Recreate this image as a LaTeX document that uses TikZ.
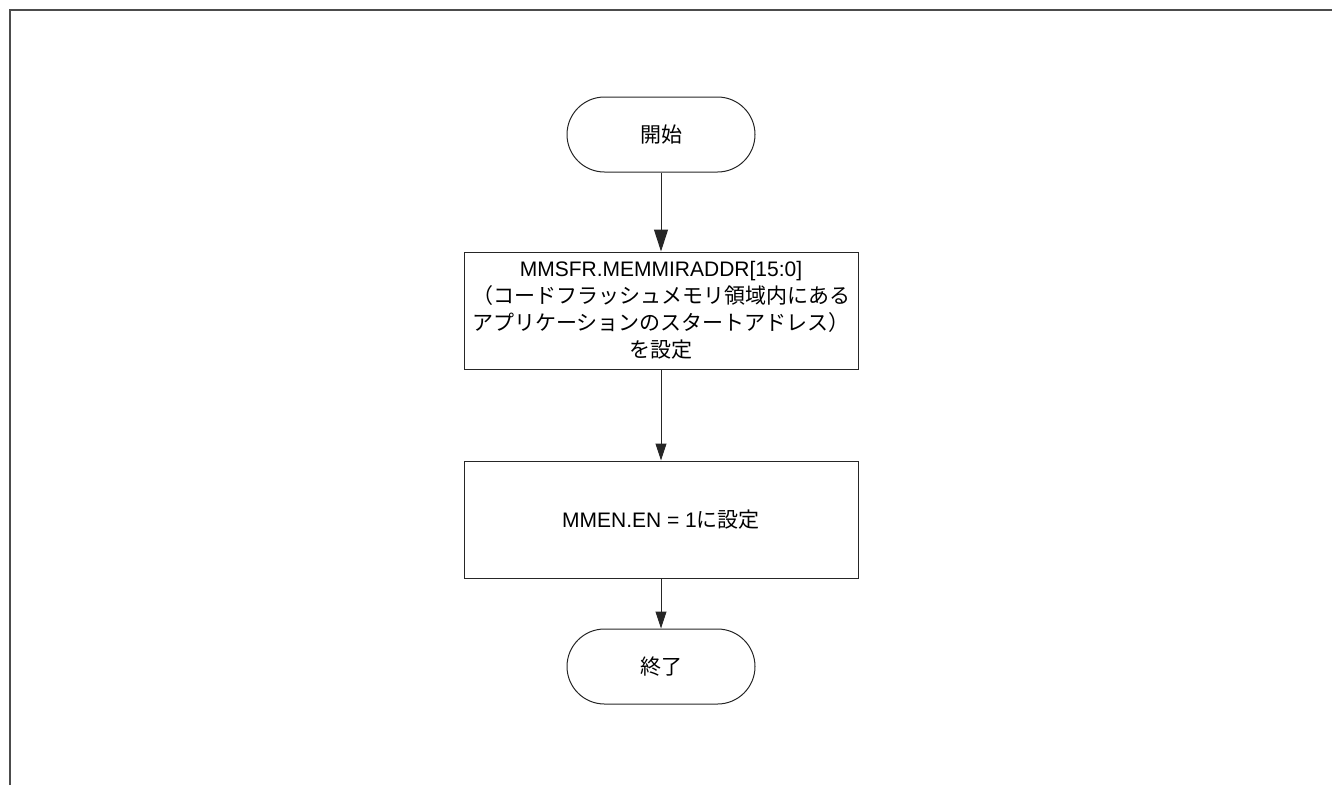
\documentclass[tikz,border=0pt]{standalone}
\usepackage{fontspec}
\setmainfont{Liberation Sans}
\newfontfamily\jpfont{Noto Sans CJK JP}
\usetikzlibrary{shapes.misc}
\usetikzlibrary{arrows.meta}

\begin{document}
\begin{tikzpicture}
[x=1pt,y=-1pt,%
  lineDecorate/.style={line width=1pt,draw=black!85},%
  termDecorate/.style={shape=rounded rectangle,draw=black!85,line width=1pt,
    minimum width=188pt,minimum height=75pt,inner sep=0pt},%
  procDecorate/.style={shape=rectangle,draw=black!85,line width=1pt,
    minimum width=394pt,minimum height=117pt,inner sep=0pt,align=center},%
  frameDecorate/.style={line width=2pt,draw=black!70},%
  font=\fontsize{21}{27}\selectfont]
\useasboundingbox (0,0) rectangle (1332,785);
%% frame
\draw[frameDecorate] (10,785) |- (1332,10);
%% nodes or vertices
\node (start) at (661,134.5) [termDecorate] {\jpfont 開始};
\node (setaddr) at (661,310.5) [procDecorate]
  {MMSFR.MEMMIRADDR[15:0]\\
   {\jpfont （コードフラッシュメモリ領域内にある}\\
   {\jpfont アプリケーションのスタートアドレス）}\\
   {\jpfont を設定}};
\node (setenable) at (661,519.5) [procDecorate] {MMEN.EN = 1{\jpfont に設定}};
\node (stop) at (661,666.5) [termDecorate] {\jpfont 終了};
%% edges or lines
\foreach \startnode/\endnode/\tipw/\tipl in {start/setaddr/14/22,
  setaddr/setenable/11/17, setenable/stop/11/17}
{
  \draw[lineDecorate,-{Triangle[width=\tipw pt,length=\tipl pt]}]
    (\startnode) -- (\endnode);
}
\end{tikzpicture}
\end{document}
